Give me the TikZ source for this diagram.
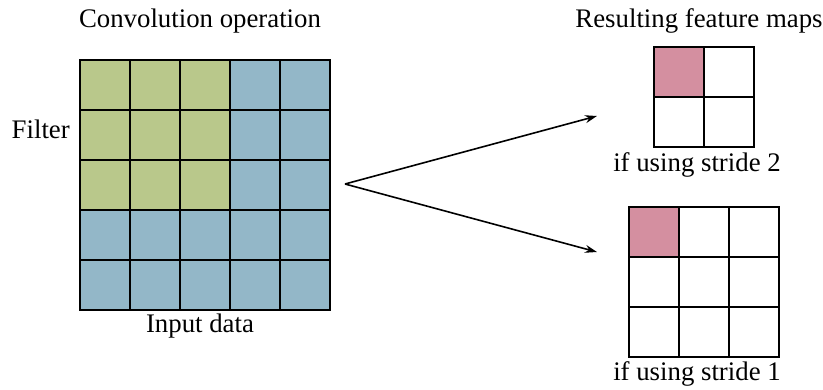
\documentclass[tikz,border=0pt]{standalone}
\usepackage{fontspec}
\setmainfont{Liberation Serif}
\usetikzlibrary{arrows.meta}
\definecolor{filtergreen}{HTML}{B9C88B}
\definecolor{inputblue}{HTML}{93B7C8}
\definecolor{outpink}{HTML}{D48FA0}
\begin{document}
\begin{tikzpicture}[x=1pt,y=-1pt,
  cell/.style={draw=black, line width=1.6pt, minimum size=50pt, inner sep=0pt, anchor=north west},
  lbl/.style={font=\fontsize{26.8}{32}\selectfont, inner sep=0pt, anchor=base},
  arr/.style={-{Stealth[length=12pt,width=8pt]}, line width=1.6pt}]
\useasboundingbox (0,0) rectangle (823,389);
% input grid
\foreach \r in {0,...,4}{\foreach \c in {0,...,4}{
  \ifnum\r<3 \ifnum\c<3 \def\fc{filtergreen}\else\def\fc{inputblue}\fi\else\def\fc{inputblue}\fi
  \node[cell, fill=\fc] (in-\r-\c) at (79+50*\c, 59+50*\r) {};
}}
% stride 2 output
\foreach \r in {0,1}{\foreach \c in {0,1}{
  \ifnum\r=0 \ifnum\c=0 \def\fc{outpink}\else\def\fc{white}\fi\else\def\fc{white}\fi
  \node[cell, fill=\fc] (sa-\r-\c) at (653+50*\c, 46+50*\r) {};
}}
% stride 1 output
\foreach \r in {0,1,2}{\foreach \c in {0,1,2}{
  \ifnum\r=0 \ifnum\c=0 \def\fc{outpink}\else\def\fc{white}\fi\else\def\fc{white}\fi
  \node[cell, fill=\fc] (sb-\r-\c) at (628+50*\c, 206+50*\r) {};
}}
% labels
\node[lbl] (title) at (200,27) {Convolution operation};
\node[lbl, anchor=base east] (filter) at (70,138) {Filter};
\node[lbl] (input) at (200,332) {Input data};
\node[lbl] (result) at (699,27) {Resulting feature maps};
\node[lbl] (s2) at (697,171) {if using stride 2};
\node[lbl] (s1) at (697,380) {if using stride 1};
% arrows
\coordinate (src) at (345,184);
\coordinate (t2) at (597,116);
\coordinate (t1) at (597,252);
\draw[arr] (src) -- (t2);
\draw[arr] (src) -- (t1);
\end{tikzpicture}
\end{document}
